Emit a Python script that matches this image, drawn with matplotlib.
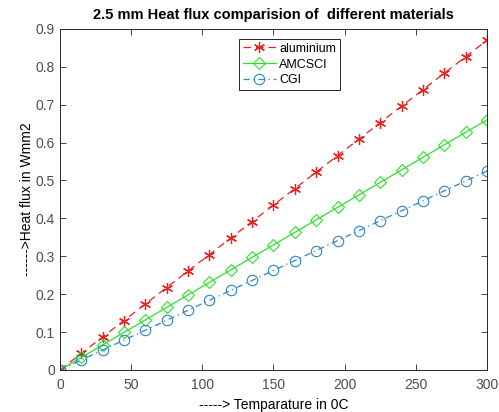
import matplotlib
matplotlib.use("Agg")
import matplotlib.pyplot as plt

plt.rcParams["font.family"] = ["Liberation Sans", "DejaVu Sans"]

# ── data ──────────────────────────────────────────────────────────────────────
temperature = [0, 15, 30, 45, 60, 75, 90, 105, 120, 135, 150,
               165, 180, 195, 210, 225, 240, 255, 270, 285, 300]
aluminium = [0.0, 0.0435, 0.087, 0.1305, 0.174, 0.2175, 0.261, 0.3045, 0.348, 0.3915, 0.435,
             0.4785, 0.522, 0.5655, 0.609, 0.6525, 0.696, 0.7395, 0.783, 0.8265, 0.87]
amcsci = [0.0, 0.033, 0.066, 0.099, 0.132, 0.165, 0.198, 0.231, 0.264, 0.297, 0.33,
          0.363, 0.396, 0.429, 0.462, 0.495, 0.528, 0.561, 0.594, 0.627, 0.66]
cgi = [0.0, 0.02625, 0.0525, 0.07875, 0.105, 0.13125, 0.1575, 0.18375, 0.21, 0.23625, 0.2625,
       0.28875, 0.315, 0.34125, 0.3675, 0.39375, 0.42, 0.44625, 0.4725, 0.49875, 0.525]

# ── figure ────────────────────────────────────────────────────────────────────
fig = plt.figure(figsize=(4.99, 4.12), dpi=100)
ax = fig.add_axes([0.120, 0.102, 0.856, 0.828])

ax.plot(temperature, aluminium, color="#e8231f", ls=(0, (6, 4)), lw=0.9,
        marker=(6, 2, 0), ms=8, mew=0.9, label="aluminium")
ax.plot(temperature, amcsci, color="#2ee02e", ls="-", lw=0.9,
        marker="D", ms=6, mfc="none", mew=0.8, label="AMCSCI")
ax.plot(temperature, cgi, color="#2f86c0", ls=(0, (5, 3, 1, 3)), lw=0.9,
        marker="o", ms=7.5, mfc="none", mew=0.8, label="CGI")

ax.set_xlim(0, 300)
ax.set_ylim(0, 0.9)
ax.set_xticks(range(0, 301, 50))
ax.set_yticks([0, 0.1, 0.2, 0.3, 0.4, 0.5, 0.6, 0.7, 0.8, 0.9])
ax.set_yticklabels(["0", "0.1", "0.2", "0.3", "0.4", "0.5", "0.6", "0.7", "0.8", "0.9"])
ax.tick_params(direction="in", length=4, width=0.6, top=True, right=True,
               labelsize=10, colors="#262626", labelcolor="#4d4d4d")
ax.tick_params(axis="x", pad=6)
for s in ax.spines.values():
    s.set_linewidth(0.7)
    s.set_color("#262626")

ax.set_title("2.5 mm Heat flux comparision of  different materials",
             fontsize=10.5, fontweight="bold", pad=7)
ax.set_xlabel("-----> Temparature in 0C", fontsize=10, labelpad=4)
ax.set_ylabel("------>Heat flux in Wmm2", fontsize=10, labelpad=1)

leg = ax.legend(loc="upper left", bbox_to_anchor=(0.42, 0.97), fontsize=9,
                fancybox=False, framealpha=1, edgecolor="#262626",
                handlelength=2.6, handletextpad=0.3, borderpad=0.3,
                labelspacing=0.3, borderaxespad=0)
leg.get_frame().set_linewidth(0.7)

fig.savefig("out.png", dpi=100)
